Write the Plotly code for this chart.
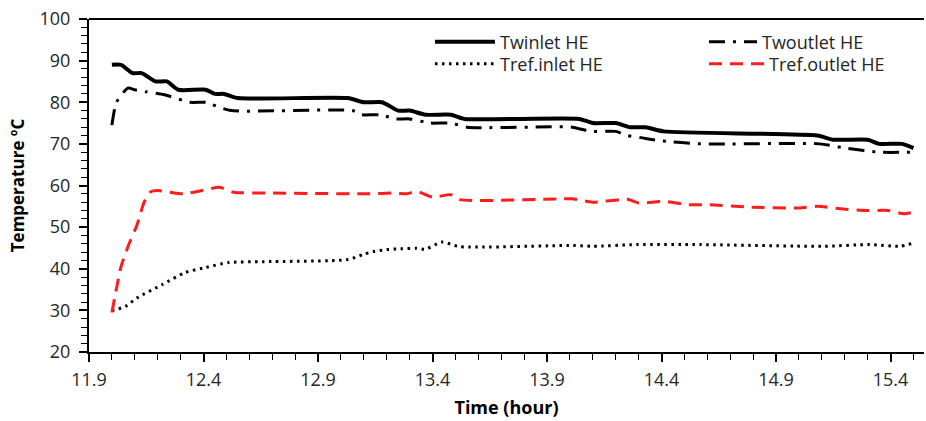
import plotly.graph_objects as go

# ---- data ----
t_win = [12.0, 12.04, 12.09, 12.13, 12.19, 12.24, 12.29, 12.41, 12.45, 12.49, 12.55, 13.03, 13.1, 13.18,
         13.25, 13.3, 13.37, 13.48, 13.54, 14.04, 14.1, 14.2, 14.26, 14.33, 14.41, 15.08, 15.15, 15.3,
         15.35, 15.45, 15.5]
twinlet = [89, 89, 87, 87, 85, 85, 83, 83, 82, 82, 81, 81, 80, 80,
           78, 78, 77, 77, 76, 76, 75, 75, 74, 74, 73, 72, 71, 71,
           70, 70, 69]

t_wout = [12.0, 12.02, 12.07, 12.1, 12.15, 12.23, 12.34, 12.41, 12.44, 12.52, 13.05, 13.09, 13.17, 13.24,
          13.3, 13.39, 13.48, 13.55, 14.01, 14.09, 14.2, 14.25, 14.31, 14.39, 14.57, 15.09, 15.2, 15.35, 15.5]
twoutlet = [74.5, 80, 83.4, 83, 82.5, 81.8, 80, 80, 79.4, 78, 78, 77, 77, 76,
            76, 75, 75, 74, 74, 73, 73, 72, 71.5, 70.8, 70, 70, 69, 68, 68]

t_rin = [12.0, 12.02, 12.06, 12.11, 12.22, 12.32, 12.41, 12.51, 12.66, 13.03, 13.1, 13.14, 13.2, 13.26,
         13.33, 13.37, 13.44, 13.52, 14.01, 14.1, 14.29, 14.57, 15.1, 15.31, 15.44, 15.49]
tref_inlet = [30, 30.2, 31, 33, 36.2, 39.1, 40.3, 41.5, 41.7, 42.2, 43.5, 44.1, 44.6, 44.8,
              44.9, 44.7, 46.4, 45.3, 45.6, 45.4, 45.8, 45.8, 45.4, 45.8, 45.4, 46]

t_rout = [12.0, 12.04, 12.07, 12.11, 12.14, 12.17, 12.2, 12.31, 12.41, 12.47, 12.53, 12.7, 13.14, 13.22,
          13.29, 13.33, 13.4, 13.48, 13.52, 13.96, 14.01, 14.1, 14.25, 14.3, 14.41, 14.52, 14.61, 14.79,
          15.0, 15.08, 15.18, 15.3, 15.39, 15.46, 15.5]
tref_outlet = [29.5, 40.5, 45.3, 50.6, 55.9, 58.5, 58.8, 58, 59, 59.6, 58.4, 58.2, 58, 58.2,
               58, 58.6, 57.2, 57.8, 56.6, 56.8, 56.8, 56, 56.7, 55.8, 56.2, 55.4, 55.4, 54.8,
               54.6, 55, 54.4, 54, 54, 53.2, 53.6]

x_ticks = [11.9, 12.4, 12.9, 13.4, 13.9, 14.4, 14.9, 15.4]
x_ticklabels = ["11.9", "12.4", "12.9", "13.4", "13.9", "14.4", "14.9", "15.4"]
y_ticks = [20, 30, 40, 50, 60, 70, 80, 90, 100]

FONT = "Open Sans, Liberation Sans, sans-serif"
TXT = "#262626"

fig = go.Figure()
fig.add_trace(go.Scatter(x=t_win, y=twinlet, name="Twinlet HE", mode="lines", legend="legend",
                         line=dict(color="black", width=4, shape="spline", smoothing=0.6)))
fig.add_trace(go.Scatter(x=t_wout, y=twoutlet, name="Twoutlet HE", mode="lines", legend="legend3",
                         line=dict(color="black", width=3, dash="16px,8px,3px,8px", shape="spline", smoothing=0.6)))
fig.add_trace(go.Scatter(x=t_rin, y=tref_inlet, name="Tref.inlet HE", mode="lines", legend="legend2",
                         line=dict(color="black", width=3, dash="2.5px,4.5px", shape="spline", smoothing=0.6)))
fig.add_trace(go.Scatter(x=t_rout, y=tref_outlet, name="Tref.outlet HE", mode="lines", legend="legend4",
                         line=dict(color="#ff1c1c", width=3, dash="13px,8px", shape="spline", smoothing=0.6)))

axis_common = dict(showgrid=False, zeroline=False, showline=True, linecolor="black", linewidth=2,
                   tickfont=dict(family=FONT, size=18, color=TXT), tickcolor="black", automargin=False)

PL, PR, PT, PB = 89, 2, 19, 69
W, H = 926, 421
pw, ph = W - PL - PR, H - PT - PB


def lx(px):
    return (px - PL) / pw


def ly(py):
    return (H - PB - py) / ph


leg_font = dict(family=FONT, size=18, color=TXT)


def leg(xpx, ypx, iw):
    return dict(x=lx(xpx), y=ly(ypx), xanchor="left", yanchor="middle", bgcolor="rgba(0,0,0,0)",
                font=leg_font, itemwidth=iw, borderwidth=0)


fig.update_layout(
    width=W, height=H,
    margin=dict(l=PL, r=PR, t=PT, b=PB),
    paper_bgcolor="white", plot_bgcolor="white",
    font=dict(family=FONT, color=TXT),
    xaxis=dict(range=[11.9, 15.546], tickvals=x_ticks, ticktext=x_ticklabels,
               ticks="outside", ticklen=8, tickwidth=1.5, ticklabelstandoff=2,
               minor=dict(dtick=0.1, tick0=11.9, ticks="outside", ticklen=6, tickcolor="black", tickwidth=1),
               title=dict(text="<b>Time (hour)</b>", font=dict(family=FONT, size=18, color="black"), standoff=12),
               **axis_common),
    yaxis=dict(range=[20, 100], tickvals=y_ticks,
               ticks="outside", ticklen=8, tickwidth=1.5, ticklabelstandoff=5,
               minor=dict(dtick=2, tick0=20, ticks="outside", ticklen=6, tickcolor="black", tickwidth=1),
               title=dict(text="<b>Temperature ºC</b>", font=dict(family=FONT, size=17, color="black"), standoff=11),
               **axis_common),
    legend=leg(430, 42, 60),
    legend2=leg(430, 64, 60),
    legend3=leg(704, 42, 48),
    legend4=leg(704, 64, 55),
    showlegend=True,
)

# top border line of the plot area
fig.add_shape(type="line", xref="paper", yref="paper", x0=0, x1=1, y0=1, y1=1,
              line=dict(color="black", width=2))

fig.write_html("out.html", config={"displayModeBar": False},
               post_script="document.body.style.margin='0px';document.body.style.padding='0px';")
